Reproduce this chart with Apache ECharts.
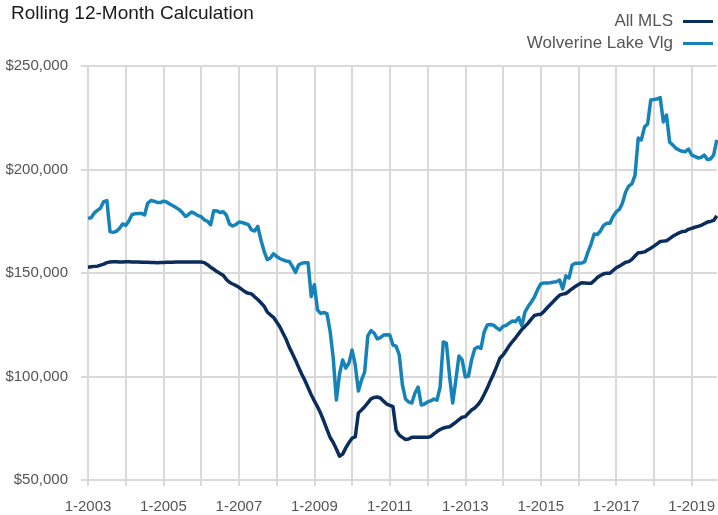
<!DOCTYPE html>
<html>
<head>
<meta charset="utf-8">
<script src="https://cdn.jsdelivr.net/npm/echarts@6/dist/echarts.min.js"></script>
<style>
  html, body { margin: 0; padding: 0; background: #ffffff; }
  #chart { width: 718px; height: 515px; }
</style>
</head>
<body>
<div id="chart"></div>
<script>
// ---- Data ----
const startYear = 2003;
const monthCount = 201; // 1-2003 .. 9-2019
const categories = [];
for (let i = 0; i < monthCount; i++) {
  const m = (i % 12) + 1;
  const y = startYear + Math.floor(i / 12);
  categories.push(m + '-' + y);
}

const seriesNames = ['All MLS', 'Wolverine Lake Vlg'];

const allMLS = [
  152800,153000,153200,153300,153800,154300,155000,
  155300,155400,155400,155300,155300,155400,155400,155300,155300,155300,
  155200,155200,155200,155100,155100,155000,155100,155100,155200,155200,
  155200,155300,155300,155300,155300,155300,155300,155300,155300,155300,
  155000,154000,152800,151800,150700,149800,148900,146900,145500,144700,144000,
  143100,142000,140900,140200,139900,138500,137200,135600,134000,131200,129800,128600,
  126300,124000,121000,118000,114200,111100,107900,104400,101100,98100,94600,91200,
  88200,85400,82200,78500,74500,70600,68100,65000,61500,62500,65500,68100,
  70200,70800,82400,83800,85400,87300,89200,89900,90100,89600,88100,86700,
  86100,85500,74000,71700,70600,69600,69800,70600,70600,70600,70600,70600,
  70600,71000,72300,73400,74400,75100,75500,75700,76800,77900,79200,80300,
  80600,82300,83800,84800,86300,88400,91300,94400,98000,101200,104900,108800,
  110400,112600,114900,116900,118700,120700,122700,124200,125800,127700,129500,129900,
  130000,131400,133100,134700,136200,137800,139300,139800,140100,141200,142400,143500,
  144400,145300,145200,145000,145000,146300,147800,148800,149600,149900,149900,151200,
  152500,153300,154200,155200,155500,156600,158200,159800,159900,160200,161100,162000,
  163000,164100,165200,165400,165600,166600,167700,168600,169400,170000,170200,171100,
  171600,172100,172500,173000,173800,174600,174900,175400,177600
];

const wolverine = [
  176400,176700,179000,180200,181400,184500,185000,170000,169600,170100,171500,173700,
  173000,175100,178300,178600,178700,178800,178000,183800,185000,184700,184100,184000,
  184700,184300,183300,182500,181600,180600,179200,177300,178300,179500,178700,177700,
  177200,175700,175000,173300,180100,180000,179200,179600,178000,173700,172700,173400,
  174600,174400,173900,173400,170800,170300,172500,165900,160600,156500,157200,159300,
  158000,157000,156300,155800,155600,153200,150300,154000,154700,155000,155000,138600,
  144300,132100,130500,130900,130400,122000,108900,88600,101200,108000,104100,106500,
  112800,105600,93000,98300,102200,119600,122200,121000,118200,118800,120000,120200,
  120000,115200,114700,110400,95900,89100,87700,87200,92000,94900,86200,86700,
  87700,88200,89100,88600,94900,116700,116000,100200,87200,98300,109900,108000,
  99800,100200,108000,113300,114300,113600,121500,124900,125100,124800,123500,122500,
  124200,124700,125800,126800,126500,128500,124500,131200,133800,136000,138400,142000,
  144700,145200,145200,145300,145600,145800,146600,142300,148600,147600,153900,154700,
  154700,154800,155500,160100,164000,168800,168600,170300,173000,174000,174000,177300,
  179500,180700,183800,189100,192000,193100,197300,215200,214300,220500,222000,233600,
  233800,234100,234700,223000,226300,213300,211800,210200,209400,208800,208600,209900,
  207000,206300,205600,205800,207000,204800,205100,207000,214300
];

const yTicks = [50000, 100000, 150000, 200000, 250000];

// ---- Chart ----
const FONT = '"Liberation Sans", Arial, Helvetica, sans-serif';
const GRID = '#d9d9d9';
const LABEL = '#555555';

const chart = echarts.init(document.getElementById('chart'), null, { renderer: 'canvas' });
chart.setOption({
  animation: false,
  backgroundColor: '#ffffff',
  textStyle: { fontFamily: FONT },
  title: {
    text: 'Rolling 12-Month Calculation',
    left: 6,
    top: -1,
    textStyle: { fontFamily: FONT, fontSize: 19, fontWeight: 'normal', color: '#1a1a1a' }
  },
  legend: {
    orient: 'vertical',
    right: 0,
    top: 8,
    align: 'right',
    icon: 'rect',
    itemWidth: 30,
    itemHeight: 3,
    itemGap: 5,
    data: seriesNames,
    textStyle: { fontFamily: FONT, fontSize: 17, color: '#555555', lineHeight: 17, padding: [0, 5, 0, 0] }
  },
  grid: { left: 88, right: 1, top: 66, bottom: 35, containLabel: false },
  xAxis: {
    type: 'category',
    boundaryGap: false,
    data: categories,
    axisLine: { show: true, lineStyle: { color: GRID, width: 2 } },
    axisTick: { show: true, interval: 11, length: 6, lineStyle: { color: GRID, width: 2 } },
    axisLabel: { interval: 23, margin: 19, fontSize: 15, color: LABEL, fontFamily: FONT },
    splitLine: { show: true, interval: 11, lineStyle: { color: GRID, width: 2 } }
  },
  yAxis: {
    type: 'value',
    min: yTicks[0],
    max: yTicks[yTicks.length - 1],
    interval: 50000,
    axisLine: { show: false },
    axisTick: { show: true, length: 7, lineStyle: { color: GRID, width: 2 } },
    axisLabel: {
      margin: 20, fontSize: 15, color: LABEL, fontFamily: FONT,
      formatter: v => '$' + v.toLocaleString('en-US')
    },
    splitLine: { show: true, lineStyle: { color: GRID, width: 2 } }
  },
  series: [
    {
      name: seriesNames[0],
      type: 'line',
      data: allMLS,
      showSymbol: false,
      symbol: 'none',
      z: 3,
      lineStyle: { color: '#0b2d5b', width: 3.5, join: 'round' },
      itemStyle: { color: '#0b2d5b' }
    },
    {
      name: seriesNames[1],
      type: 'line',
      data: wolverine,
      showSymbol: false,
      symbol: 'none',
      z: 2,
      lineStyle: { color: '#1583b8', width: 3.5, join: 'round' },
      itemStyle: { color: '#1583b8' }
    }
  ]
});
</script>
</body>
</html>
